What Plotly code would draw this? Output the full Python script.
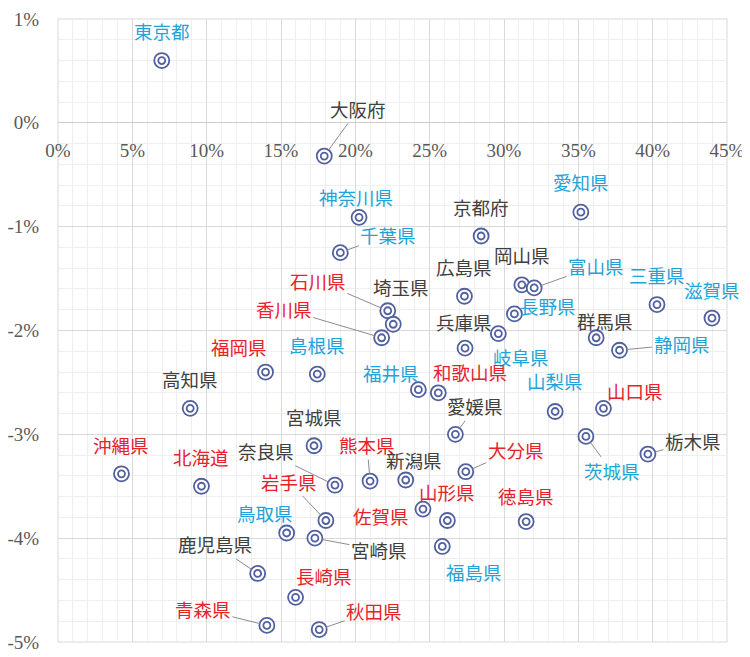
import plotly.graph_objects as go

# --- data --------------------------------------------------------------------
prefectures = [
    "東京都", "大阪府", "神奈川県", "千葉県", "京都府", "愛知県", "岡山県", "富山県",
    "広島県", "三重県", "滋賀県", "長野県", "石川県", "埼玉県", "香川県", "兵庫県",
    "岐阜県", "群馬県", "静岡県", "福岡県", "島根県", "福井県", "和歌山県", "山梨県",
    "山口県", "高知県", "愛媛県", "宮城県", "沖縄県", "北海道", "奈良県", "熊本県",
    "新潟県", "大分県", "栃木県", "茨城県", "岩手県", "佐賀県", "山形県", "徳島県",
    "鳥取県", "宮崎県", "鹿児島県", "福島県", "長崎県", "青森県", "秋田県",
]
x_share = [
    6.98, 17.91, 20.25, 18.99, 28.46, 35.17, 31.20, 32.03,
    27.34, 40.29, 43.99, 30.70, 22.18, 22.55, 21.77, 27.38,
    29.62, 36.20, 37.77, 13.96, 17.44, 24.24, 25.58, 33.44,
    36.69, 8.89, 26.73, 17.22, 4.27, 9.65, 18.63, 20.99,
    23.39, 27.43, 39.68, 35.51, 18.02, 24.55, 26.19, 31.49,
    15.38, 17.28, 13.43, 25.85, 15.98, 14.05, 17.57,
]
y_change = [
    0.60, -0.32, -0.91, -1.25, -1.09, -0.86, -1.56, -1.59,
    -1.67, -1.75, -1.88, -1.84, -1.81, -1.94, -2.07, -2.17,
    -2.03, -2.07, -2.19, -2.40, -2.42, -2.57, -2.60, -2.78,
    -2.75, -2.75, -3.00, -3.11, -3.38, -3.50, -3.49, -3.45,
    -3.44, -3.36, -3.19, -3.02, -3.83, -3.72, -3.83, -3.84,
    -3.95, -4.00, -4.34, -4.08, -4.57, -4.84, -4.88,
]
groups = [
    "blue", "gray", "blue", "blue", "gray", "blue", "gray", "blue",
    "gray", "blue", "blue", "blue", "red", "gray", "red", "gray",
    "blue", "gray", "blue", "red", "blue", "blue", "red", "blue",
    "red", "gray", "gray", "gray", "red", "red", "gray", "red",
    "gray", "red", "gray", "blue", "red", "red", "red", "red",
    "blue", "gray", "gray", "blue", "red", "red", "red",
]

x_tickvals = [0, 5, 10, 15, 20, 25, 30, 35, 40, 45]
x_ticktext = ["0%", "5%", "10%", "15%", "20%", "25%", "30%", "35%", "40%", "45%"]
y_tickvals = [1, 0, -1, -2, -3, -4, -5]
y_ticktext = ["1%", "0%", "-1%", "-2%", "-3%", "-4%", "-5%"]

# --- styling -----------------------------------------------------------------
GROUP_COLORS = {"blue": "#1fa3d9", "red": "#e8212b", "gray": "#404040"}
MARKER_COLOR = "#51609e"
CJK_FONT = "Noto Sans CJK JP"
TICK_FONT = "Liberation Serif"

# label offset from its point in pixels (dx, dy), and whether a leader line is drawn
LABEL_POS = {
    "東京都": (0, -30, False), "大阪府": (34, -47, True), "神奈川県": (-3, -20, False),
    "千葉県": (48, -18, True), "京都府": (0, -29, False), "愛知県": (0, -30, False),
    "岡山県": (0, -30, False), "富山県": (62, -22, True), "広島県": (0, -29, False),
    "三重県": (0, -30, False), "滋賀県": (0, -28, False), "長野県": (34, -8, False),
    "石川県": (-70, -30, True), "埼玉県": (8, -37, False), "香川県": (-98, -29, True),
    "兵庫県": (-1, -26, False), "岐阜県": (23, 23, False), "群馬県": (9, -17, False),
    "静岡県": (62, -6, True), "福岡県": (-27, -25, False), "島根県": (0, -29, False),
    "福井県": (-27, -17, False), "和歌山県": (32, -21, False), "山梨県": (0, -30, False),
    "山口県": (32, -17, False), "高知県": (0, -29, False), "愛媛県": (20, -28, True),
    "宮城県": (0, -29, False), "沖縄県": (0, -29, False), "北海道": (0, -29, False),
    "奈良県": (-69, -34, True), "熊本県": (-3, -36, True), "新潟県": (8, -20, False),
    "大分県": (50, -22, True), "栃木県": (45, -13, True), "茨城県": (26, 35, True),
    "岩手県": (-37, -39, True), "佐賀県": (-42, 7, False), "山形県": (0, -29, False),
    "徳島県": (0, -26, False), "鳥取県": (-22, -20, False), "宮崎県": (64, 12, True),
    "鹿児島県": (-43, -29, True), "福島県": (32, 26, False), "長崎県": (28, -21, False),
    "青森県": (-64, -16, True), "秋田県": (55, -19, True),
}

fig = go.Figure()

# double-circle markers: white disc with ring, plus a small inner ring
fig.add_trace(go.Scatter(
    x=x_share, y=y_change, mode="markers", text=prefectures, hoverinfo="text+x+y",
    marker=dict(symbol="circle", size=15, color="white",
                line=dict(color=MARKER_COLOR, width=1.8)),
    showlegend=False,
))
fig.add_trace(go.Scatter(
    x=x_share, y=y_change, mode="markers", hoverinfo="skip",
    marker=dict(symbol="circle-open", size=7, color=MARKER_COLOR,
                line=dict(color=MARKER_COLOR, width=1.8)),
    showlegend=False,
))

for name, xv, yv, grp in zip(prefectures, x_share, y_change, groups):
    dx, dy, leader = LABEL_POS[name]
    fig.add_annotation(
        x=xv, y=yv, text=name, ax=dx, ay=dy,
        showarrow=True, arrowhead=0, arrowwidth=1, standoff=7.5,
        arrowcolor="#8c8c8c" if leader else "rgba(0,0,0,0)",
        font=dict(family=CJK_FONT, size=18.5, color=GROUP_COLORS[grp]),
        xanchor="center", yanchor="middle",
    )

# plot-area frame
fig.add_shape(type="rect", xref="paper", yref="paper", x0=0, x1=1, y0=0, y1=1,
              line=dict(color="#d9d9d9", width=1), layer="below")

# the page puts the figure 8px in from the top-left corner, so margins allow for that
fig.update_layout(
    width=750, height=657,
    margin=dict(l=50, r=31, t=11, b=23),
    paper_bgcolor="white", plot_bgcolor="white",
    font=dict(family=TICK_FONT, size=19, color="#595959"),
)
fig.update_xaxes(
    range=[0, 45], tickvals=x_tickvals, ticktext=x_ticktext,
    anchor="free", position=5 / 6, side="bottom",
    ticks="outside", ticklen=10, tickcolor="rgba(0,0,0,0)",
    showgrid=True, gridcolor="#d9d9d9", gridwidth=1,
    minor=dict(dtick=1, showgrid=True, gridcolor="#efefef", gridwidth=1),
    zeroline=False, showline=False, automargin=False,
)
fig.update_yaxes(
    range=[-5, 1], tickvals=y_tickvals, ticktext=y_ticktext,
    ticks="outside", ticklen=14, tickcolor="rgba(0,0,0,0)",
    showgrid=True, gridcolor="#d9d9d9", gridwidth=1,
    minor=dict(dtick=0.2, tick0=0, showgrid=True, gridcolor="#efefef", gridwidth=1),
    zeroline=True, zerolinecolor="#cccccc", zerolinewidth=1.2,
    showline=False, automargin=False,
)

fig.write_html("out.html")
